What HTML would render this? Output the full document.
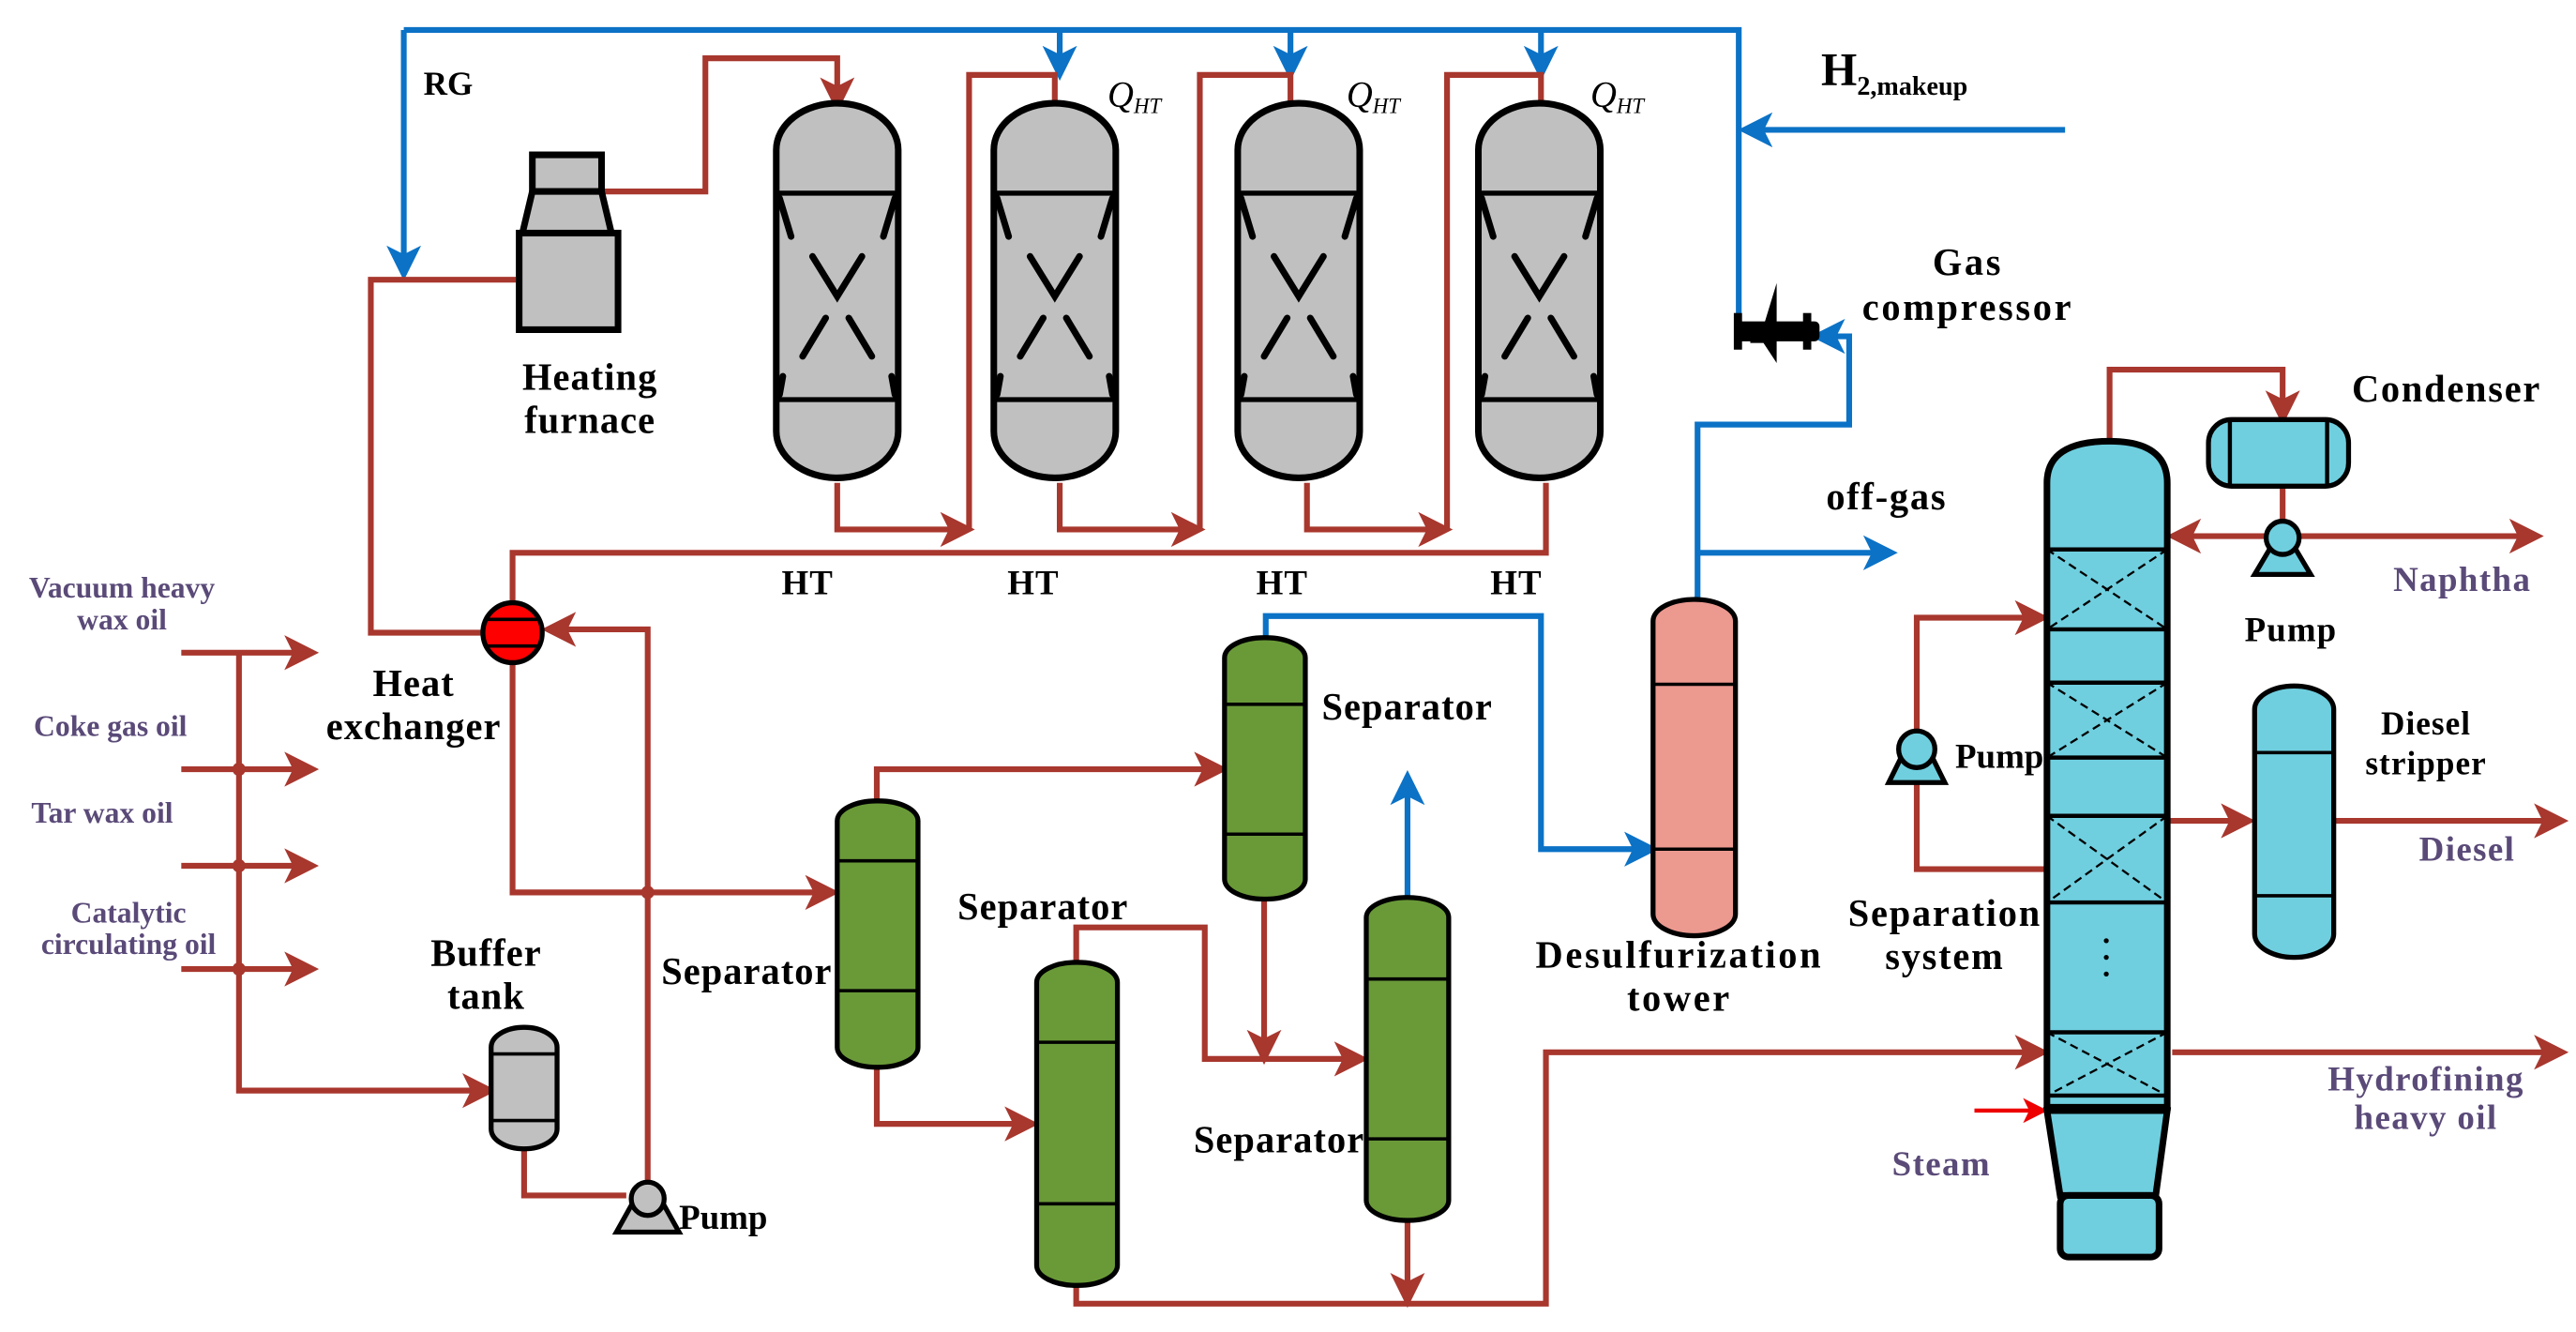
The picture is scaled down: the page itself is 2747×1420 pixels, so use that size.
<!DOCTYPE html>
<html><head><meta charset="utf-8"><style>html,body{margin:0;padding:0;background:#fff}svg{display:block}</style></head><body>
<svg width="2747" height="1420" viewBox="0 0 1563 800" preserveAspectRatio="none" xmlns="http://www.w3.org/2000/svg" font-family="Liberation Serif, serif" font-weight="bold">
<defs>
<marker id="ar" markerWidth="6" markerHeight="6" refX="5" refY="3" orient="auto" markerUnits="strokeWidth"><path d="M0,0 L6,3 L0,6 L1.5,3z" fill="#a8372e"/></marker>
<marker id="ab" markerWidth="6" markerHeight="6" refX="5" refY="3" orient="auto" markerUnits="strokeWidth"><path d="M0,0 L6,3 L0,6 L1.5,3z" fill="#0b72c6"/></marker>
<marker id="arr" markerWidth="6" markerHeight="6" refX="5" refY="3" orient="auto" markerUnits="strokeWidth"><path d="M0,0 L6,3 L0,6 L1.5,3z" fill="#e00"/></marker>
<g id="reac">
<rect x="-37" y="0" width="74" height="225" rx="37" ry="28" fill="#c0c0c0" stroke="#000" stroke-width="4"/>
<line x1="-37" y1="54" x2="37" y2="54" stroke="#000" stroke-width="3"/>
<line x1="-37" y1="178" x2="37" y2="178" stroke="#000" stroke-width="3"/>
<g stroke="#000" stroke-width="4" stroke-linecap="round" fill="none">
<path d="M-35,57 L-28,80 M35,57 L28,80 M-15,92 L0,116 L15,92 M-21,152 L-7,129 M21,152 L7,129 M-35,175 L-33,164 M35,175 L33,164"/>
</g>
</g>
</defs>
<rect width="1563" height="800" fill="#fff"/>
<!-- blue lines -->
<g stroke="#0b72c6" stroke-width="3.5" fill="none">
<path d="M245,18 H1055 V190"/>
<path d="M245,18 V165" marker-end="url(#ab)"/>
<path d="M643,18 V45" marker-end="url(#ab)"/>
<path d="M783,18 V45" marker-end="url(#ab)"/>
<path d="M935,18 V45" marker-end="url(#ab)"/>
<path d="M1253,78 H1058" marker-end="url(#ab)"/>
<path d="M1030,360 V255 H1122 V202 H1102" marker-end="url(#ab)"/>
<path d="M1030,332 H1148" marker-end="url(#ab)"/>
<path d="M768,383 V370 H935 V510 H1003" marker-end="url(#ab)"/>
<path d="M854,539 V466" marker-end="url(#ab)"/>
</g>
<!-- compressor -->
<g fill="#000"><path d="M1078,170 L1078,218 L1070,206 L1062,206 L1062,196 L1070,196z"/><rect x="1054" y="193" width="50" height="12" rx="3"/><rect x="1052" y="188" width="5" height="22"/><rect x="1094" y="188" width="5" height="22"/></g>
<!-- red lines -->
<g stroke="#a8372e" stroke-width="3.5" fill="none">
<path d="M365,115 H428 V35 H508 V64" marker-end="url(#ar)"/>
<path d="M313,168 H225 V380 H293"/>
<path d="M311,362 V332 H938 V290"/>
<path d="M508,290 V318 H588" marker-end="url(#ar)"/>
<path d="M588,318 V45 H640 V62"/>
<path d="M643,290 V318 H728" marker-end="url(#ar)"/>
<path d="M728,318 V45 H783 V62"/>
<path d="M793,290 V318 H878" marker-end="url(#ar)"/>
<path d="M878,318 V45 H935 V62"/>
<path d="M393,710 V378 H332" marker-end="url(#ar)"/>
<path d="M311,398 V536 H506" marker-end="url(#ar)"/>
<path d="M145,392 V655 H298" marker-end="url(#ar)"/>
<path d="M110,392 H190" marker-end="url(#ar)"/>
<path d="M110,462 H190" marker-end="url(#ar)"/>
<path d="M110,520 H190" marker-end="url(#ar)"/>
<path d="M110,582 H190" marker-end="url(#ar)"/>
<path d="M318,690 V718 H380"/>
<path d="M532,481 V462 H742" marker-end="url(#ar)"/>
<path d="M532,641 V675 H627" marker-end="url(#ar)"/>
<path d="M767,540 V636" marker-end="url(#ar)"/>
<path d="M653,578 V557 H731 V636 H827" marker-end="url(#ar)"/>
<path d="M854,733 V782" marker-end="url(#ar)"/>
<path d="M653,772 V783 H938 V632 H1240" marker-end="url(#ar)"/>
<path d="M1280,265 V222 H1385 V252" marker-end="url(#ar)"/>
<path d="M1385,292 V315"/>
<path d="M1375,322 H1318" marker-end="url(#ar)"/>
<path d="M1395,322 H1540" marker-end="url(#ar)"/>
<path d="M1163,440 V371 H1240" marker-end="url(#ar)"/>
<path d="M1163,465 V522 H1242"/>
<path d="M1315,493 H1365" marker-end="url(#ar)"/>
<path d="M1416,493 H1555" marker-end="url(#ar)"/>
<path d="M1318,632 H1555" marker-end="url(#ar)"/>
</g>
<path d="M1198,667 H1240" stroke="#e00" stroke-width="2.5" marker-end="url(#arr)"/>
<g fill="#a8372e"><circle cx="145" cy="462" r="4"/><circle cx="145" cy="520" r="4"/><circle cx="145" cy="582" r="4"/><circle cx="393" cy="536" r="4"/></g>
<!-- furnace -->
<g fill="#c0c0c0" stroke="#000" stroke-width="4">
<rect x="323" y="93" width="42" height="22"/>
<path d="M323,115 H365 L371,140 H317z"/>
<rect x="315" y="140" width="60" height="58"/>
</g>
<!-- reactors -->
<use href="#reac" x="508" y="62"/>
<use href="#reac" x="640" y="62"/>
<use href="#reac" x="788" y="62"/>
<use href="#reac" x="934" y="62"/>
<!-- heat exchanger -->
<ellipse cx="311" cy="380" rx="18" ry="18" fill="#f00" stroke="#000" stroke-width="3"/>
<line x1="295" y1="372" x2="327" y2="372" stroke="#000" stroke-width="2"/><line x1="295" y1="388" x2="327" y2="388" stroke="#000" stroke-width="2"/>
<!-- buffer tank -->
<rect x="298" y="617" width="40" height="73" rx="20" ry="12" fill="#c0c0c0" stroke="#000" stroke-width="3"/>
<line x1="298" y1="633" x2="338" y2="633" stroke="#000" stroke-width="2"/><line x1="298" y1="673" x2="338" y2="673" stroke="#000" stroke-width="2"/>
<!-- pumps -->
<g stroke="#000" stroke-width="3">
<path d="M374,740 L383,724 L403,724 L412,740z" fill="#c0c0c0"/><circle cx="393" cy="720" r="10" fill="#c0c0c0"/>
<path d="M1146,470 L1155,452 L1171,452 L1180,470z" fill="#6fcfdf"/><circle cx="1163" cy="450" r="11" fill="#6fcfdf"/>
<path d="M1368,345 L1377,330 L1393,330 L1402,345z" fill="#6fcfdf"/><circle cx="1385" cy="323" r="10" fill="#6fcfdf"/>
</g>
<!-- separators -->
<g fill="#6a9a38" stroke="#000" stroke-width="3">
<rect x="508" y="481" width="49" height="160" rx="24" ry="12"/>
<rect x="743" y="383" width="49" height="157" rx="24" ry="12"/>
<rect x="629" y="578" width="49" height="194" rx="24" ry="12"/>
<rect x="829" y="539" width="50" height="194" rx="25" ry="12"/>
</g>
<g stroke="#000" stroke-width="2">
<path d="M508,517 H557 M508,595 H557 M743,423 H792 M743,501 H792 M629,626 H678 M629,723 H678 M829,588 H879 M829,684 H879"/>
</g>
<!-- desulf tower -->
<rect x="1003" y="360" width="50" height="202" rx="25" ry="13" fill="#ec9990" stroke="#000" stroke-width="3"/>
<path d="M1003,411 H1053 M1003,510 H1053" stroke="#000" stroke-width="2"/>
<!-- condenser & stripper -->
<rect x="1340" y="252" width="85" height="40" rx="14" fill="#6fcfdf" stroke="#000" stroke-width="3"/>
<path d="M1353,252 V292 M1412,252 V292" stroke="#000" stroke-width="2.5"/>
<rect x="1368" y="412" width="48" height="163" rx="24" ry="14" fill="#6fcfdf" stroke="#000" stroke-width="3"/>
<path d="M1368,452 H1416 M1368,538 H1416" stroke="#000" stroke-width="2"/>
<!-- column -->
<g fill="#6fcfdf" stroke="#000" stroke-width="4">
<path d="M1242,665 V290 Q1242,265 1280,265 Q1315,265 1315,290 V665z"/>
<path d="M1242,667 H1315 L1308,718 H1250z"/>
<rect x="1250" y="718" width="60" height="37" rx="5"/>
</g>
<g stroke="#000" stroke-width="2.5"><path d="M1242,330 H1315 M1242,378 H1315 M1242,410 H1315 M1242,455 H1315 M1242,490 H1315 M1242,542 H1315 M1242,620 H1315 M1242,658 H1315"/></g>
<g stroke="#000" stroke-width="1.3" stroke-dasharray="5,3"><path d="M1242,330 L1315,378 M1315,330 L1242,378 M1242,410 L1315,455 M1315,410 L1242,455 M1242,490 L1315,542 M1315,490 L1242,542 M1242,620 L1315,658 M1315,620 L1242,658"/></g>
<g fill="#000"><circle cx="1278" cy="565" r="1.5"/><circle cx="1278" cy="575" r="1.5"/><circle cx="1278" cy="585" r="1.5"/></g>
<!-- labels -->
<g font-size="23" fill="#000" letter-spacing="0.6">
<text x="257" y="57" font-size="20" letter-spacing="0">RG</text>
<text x="358" y="234" text-anchor="middle">Heating</text><text x="358" y="260" text-anchor="middle">furnace</text>
<text x="490" y="357" text-anchor="middle" font-size="21">HT</text><text x="627" y="357" text-anchor="middle" font-size="21">HT</text><text x="778" y="357" text-anchor="middle" font-size="21">HT</text><text x="920" y="357" text-anchor="middle" font-size="21">HT</text>
<text x="251" y="418" text-anchor="middle">Heat</text><text x="251" y="444" text-anchor="middle">exchanger</text>
<text x="295" y="580" text-anchor="middle">Buffer</text><text x="295" y="606" text-anchor="middle">tank</text>
<text x="412" y="738" font-size="21" letter-spacing="0">Pump</text>
<text x="505" y="591" text-anchor="end">Separator</text>
<text x="581" y="552">Separator</text>
<text x="802" y="432">Separator</text>
<text x="828" y="692" text-anchor="end">Separator</text>
<text x="1019" y="581" text-anchor="middle" letter-spacing="1.5">Desulfurization</text><text x="1019" y="607" text-anchor="middle" letter-spacing="1.5">tower</text>
<text x="1180" y="556" text-anchor="middle" letter-spacing="1">Separation</text><text x="1180" y="582" text-anchor="middle" letter-spacing="1">system</text>
<text x="1240" y="461" font-size="21" text-anchor="end" letter-spacing="0">Pump</text>
<text x="1194" y="165" text-anchor="middle" letter-spacing="1.5">Gas</text><text x="1194" y="192" text-anchor="middle" letter-spacing="1.5">compressor</text>
<text x="1108" y="306" letter-spacing="1">off-gas</text>
<text x="1427" y="241" letter-spacing="1">Condenser</text>
<text x="1390" y="385" text-anchor="middle" font-size="21">Pump</text>
<text x="1472" y="441" text-anchor="middle" font-size="20">Diesel</text><text x="1472" y="465" text-anchor="middle" font-size="20">stripper</text>
<text x="1105" y="51" font-size="28" letter-spacing="0">H<tspan font-size="16" dy="6">2,makeup</tspan></text>
</g>
<g font-size="22" font-style="italic" font-weight="normal" fill="#000" font-family="Liberation Serif, serif">
<text x="672" y="64">Q<tspan font-size="13" dy="4">HT</tspan></text>
<text x="817" y="64">Q<tspan font-size="13" dy="4">HT</tspan></text>
<text x="965" y="64">Q<tspan font-size="13" dy="4">HT</tspan></text>
</g>
<g fill="#5a4a78" font-size="18">
<text x="74" y="359" text-anchor="middle">Vacuum heavy</text><text x="74" y="378" text-anchor="middle">wax oil</text>
<text x="67" y="442" text-anchor="middle">Coke gas oil</text>
<text x="62" y="494" text-anchor="middle">Tar wax oil</text>
<text x="78" y="554" text-anchor="middle">Catalytic</text><text x="78" y="573" text-anchor="middle">circulating oil</text>
<text x="1494" y="355" text-anchor="middle" font-size="21" letter-spacing="0.8">Naphtha</text>
<text x="1497" y="517" text-anchor="middle" font-size="21" letter-spacing="0.8">Diesel</text>
<text x="1472" y="655" text-anchor="middle" font-size="21" letter-spacing="0.8">Hydrofining</text><text x="1472" y="678" text-anchor="middle" font-size="21" letter-spacing="0.8">heavy oil</text>
<text x="1178" y="706" text-anchor="middle" font-size="21" letter-spacing="0.8">Steam</text>
</g>
</svg>
</body></html>
